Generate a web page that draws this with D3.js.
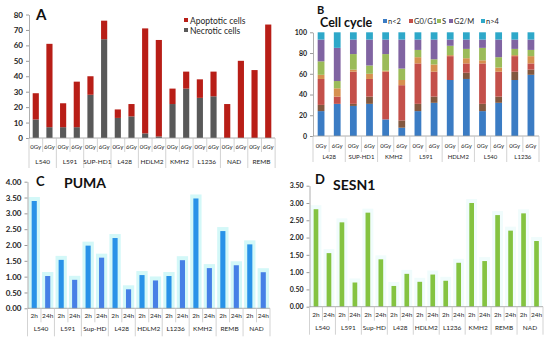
<!DOCTYPE html>
<html>
<head>
<meta charset="utf-8">
<script src="https://cdn.jsdelivr.net/npm/d3@7"></script>
<style>
  body { margin: 0; background: #fff; }
  svg { font-family: Lato, "Open Sans", sans-serif; }
</style>
</head>
<body>
<svg width="550" height="340"></svg>
<script>
// ---- data ----
const groupsA = ["L540", "L591", "SUP-HD1", "L428", "HDLM2", "KMH2", "L1236", "NAD", "REMB"];
const dosesA = ["0Gy", "6Gy"];
const necrotic = [12, 7, 7, 7, 28, 64, 13, 14, 3, 1, 22, 32, 26, 27, 0, 0, 0, 0];
const apoptotic = [17, 54, 15.5, 29.5, 12, 12, 5.5, 8, 68, 62.5, 10, 11, 12, 16, 22, 50, 44, 73.5];
const ticksA = [0, 10, 20, 30, 40, 50, 60, 70, 80];

const groupsB = ["L428", "SUP-HD1", "KMH2", "L591", "HDLM2", "L540", "L1236"];
const dosesB = ["0Gy", "6Gy"];
const nLt2 = [24, 31, 29, 31, 16, 8, 24, 32, 54, 55, 24, 32, 54, 59];
const sub1 = [6, 0, 2, 7, 0, 7, 7, 6, 0, 6, 7, 6, 8, 5];
const g0g1 = [25, 7, 31, 17, 46, 34, 39, 24, 23, 9, 39, 24, 15, 6];
const sub2 = [4, 8, 2, 5, 1, 5, 6, 7, 1, 5, 3, 4, 1, 7];
const sPhase = [13, 7, 15, 8, 16, 11, 7, 5, 9, 9, 12, 10, 6, 6];
const g2m = [21, 32, 14, 25, 14, 28, 10, 19, 6, 9, 8, 17, 9, 10];
const nGt4 = [7, 15, 7, 7, 7, 7, 7, 7, 7, 7, 7, 7, 7, 7];
const ticksB = [0, 20, 40, 60, 80, 100];

const groupsCD = ["L540", "L591", "Sup-HD", "L428", "HDLM2", "L1236", "KMH2", "REMB", "NAD"];
const timesCD = ["2h", "24h"];
const puma2h = [3.39, 1.53, 1.98, 2.22, 1.05, 1.02, 3.47, 2.44, 2.02];
const puma24h = [1.02, 0.90, 1.60, 0.60, 0.88, 1.52, 1.27, 1.36, 1.14];
const sesn2h = [2.82, 2.44, 2.72, 0.60, 0.72, 0.75, 3.00, 2.65, 2.70];
const sesn24h = [1.55, 0.70, 1.37, 0.95, 0.93, 1.27, 1.32, 2.20, 1.90];
const ticksC = [0, 0.5, 1, 1.5, 2, 2.5, 3, 3.5, 4];
const ticksD = [0, 0.5, 1, 1.5, 2, 2.5, 3, 3.5];

const svg = d3.select("svg");
const axisCol = "#9a9a9a";
const textCol = "#262626";

// two-level category axis like excel
function catAxis(g, x, y0, groups, subs, o) {
  const step = x.step();
  const r0 = x.range()[0];
  const n = groups.length * subs.length;
  g.append("line").attr("x1", r0).attr("x2", x.range()[1]).attr("y1", y0).attr("y2", y0)
    .attr("stroke", axisCol).attr("stroke-width", 0.8);
  for (let i = 0; i <= n; i++) {
    const xx = r0 + i * step;
    const isGroup = i % subs.length === 0;
    g.append("line").attr("x1", xx).attr("x2", xx).attr("y1", y0)
      .attr("y2", y0 + (isGroup ? o.len2 : o.len1))
      .attr("stroke", "#c8c8c8").attr("stroke-width", 0.8);
  }
  groups.forEach((gr, i) => {
    subs.forEach((s, j) => {
      g.append("text").attr("x", x(gr + "|" + s) + x.bandwidth() / 2).attr("y", y0 + o.off1)
        .attr("text-anchor", "middle").attr("font-size", o.fs1).attr("fill", textCol).text(s);
    });
    const cx = r0 + (i + 0.5) * subs.length * step;
    g.append("text").attr("x", cx).attr("y", y0 + o.off2)
      .attr("text-anchor", "middle").attr("font-size", o.fs2).attr("fill", textCol).text(gr);
  });
}

function valueAxis(g, y, xPos, ticks, fmt, fs) {
  const ax = d3.axisLeft(y).tickValues(ticks).tickFormat(fmt).tickSizeInner(3).tickSizeOuter(0);
  const a = g.append("g").attr("transform", `translate(${xPos},0)`).call(ax);
  a.select(".domain").attr("stroke", axisCol).attr("stroke-width", 0.8);
  a.selectAll(".tick line").attr("stroke", axisCol);
  a.selectAll("text").attr("font-size", fs).attr("font-weight", "bold").attr("fill", textCol)
    .attr("font-family", "Lato, sans-serif");
}

const keys = (groups, subs) => groups.flatMap(g => subs.map(s => g + "|" + s));

// ---------- Panel A ----------
{
  const g = svg.append("g");
  const k = keys(groupsA, dosesA);
  const x = d3.scaleBand().domain(k).range([29, 275]).paddingInner(0.55).paddingOuter(0.27);
  const y = d3.scaleLinear().domain([0, 80]).range([138, 14.5]);
  const rows = k.map((key, i) => ({ key, Necrotic: necrotic[i], Apoptotic: apoptotic[i] }));
  const stack = d3.stack().keys(["Necrotic", "Apoptotic"])(rows);
  const colA = { Necrotic: "#595959", Apoptotic: "#b81e17" };
  g.selectAll("g.s").data(stack).join("g").attr("fill", d => colA[d.key])
    .selectAll("rect").data(d => d).join("rect")
    .attr("x", d => x(d.data.key)).attr("width", x.bandwidth())
    .attr("y", d => y(d[1])).attr("height", d => y(d[0]) - y(d[1]));
  valueAxis(g, y, 29, ticksA, d3.format("d"), 8);
  catAxis(g, x, 138, groupsA, dosesA, { off1: 10.5, off2: 26, len1: 14, len2: 30, fs1: 6, fs2: 6.5 });
  g.append("text").attr("x", 36).attr("y", 20).attr("font-size", 15).attr("font-weight", "bold")
    .attr("fill", "#111").text("A");
  const leg = [["Apoptotic cells", colA.Apoptotic], ["Necrotic cells", colA.Necrotic]];
  leg.forEach((l, i) => {
    g.append("rect").attr("x", 184).attr("y", 18 + i * 10).attr("width", 4).attr("height", 4).attr("fill", l[1]);
    g.append("text").attr("x", 190).attr("y", 24 + i * 10).attr("font-size", 8.5)
      .attr("fill", textCol).text(l[0]);
  });
}

// ---------- Panel B ----------
{
  const g = svg.append("g");
  const k = keys(groupsB, dosesB);
  const x = d3.scaleBand().domain(k).range([313, 539]).paddingInner(0.58).paddingOuter(0.29);
  const y = d3.scaleLinear().domain([0, 100]).range([136, 32.3]);
  const series = [
    ["n<2", nLt2, "#3b7cc4"], ["sub1", sub1, "#83583f"], ["G0/G1", g0g1, "#c4504a"],
    ["sub2", sub2, "#d6904f"], ["S", sPhase, "#9bbb59"], ["G2/M", g2m, "#8064a2"], ["n>4", nGt4, "#2ea8c9"]
  ];
  const rows = k.map((key, i) => {
    const r = { key };
    series.forEach(s => r[s[0]] = s[1][i]);
    return r;
  });
  const stack = d3.stack().keys(series.map(s => s[0]))(rows);
  const col = Object.fromEntries(series.map(s => [s[0], s[2]]));
  g.selectAll("g.s").data(stack).join("g").attr("fill", d => col[d.key])
    .selectAll("rect").data(d => d).join("rect")
    .attr("x", d => x(d.data.key)).attr("width", x.bandwidth())
    .attr("y", d => y(d[1])).attr("height", d => y(d[0]) - y(d[1]));
  valueAxis(g, y, 313, ticksB, d3.format("d"), 7);
  catAxis(g, x, 136, groupsB, dosesB, { off1: 12, off2: 23, len1: 16, len2: 26, fs1: 6, fs2: 6 });
  g.append("text").attr("x", 317).attr("y", 14).attr("font-size", 11).attr("font-weight", "bold")
    .attr("fill", "#111").text("B");
  g.append("text").attr("x", 320).attr("y", 27).attr("font-size", 12.5).attr("font-weight", "bold")
    .attr("fill", "#111").text("Cell cycle");
  const legItems = [["n<2", 383], ["G0/G1", 409], ["S", 437], ["G2/M", 449], ["n>4", 481]];
  legItems.forEach(([name, lx]) => {
    g.append("rect").attr("x", lx).attr("y", 19).attr("width", 4).attr("height", 4).attr("fill", col[name]);
    g.append("text").attr("x", lx + 5).attr("y", 24).attr("font-size", 7.5).attr("fill", textCol).text(name);
  });
}

// ---------- Panels C and D ----------
function genePanel(o) {
  const g = svg.append("g");
  const k = keys(groupsCD, timesCD);
  const x = d3.scaleBand().domain(k).range(o.xr).paddingInner(o.pad).paddingOuter(o.pad / 2);
  const y = d3.scaleLinear().domain([0, o.max]).range(o.yr);
  const rows = k.map((key, i) => ({
    key, t: i % 2, v: (i % 2 === 0 ? o.v2 : o.v24)[Math.floor(i / 2)]
  }));
  if (o.halo) {
    g.selectAll("rect.h").data(rows).join("rect").attr("class", "h")
      .attr("x", d => x(d.key) + x.bandwidth() / 2 - x.step() * 0.42).attr("width", x.step() * 0.84)
      .attr("y", d => y(d.v) - 4).attr("height", d => y(0) - y(d.v) + 4)
      .attr("fill", o.halo);
  }
  g.selectAll("rect.b").data(rows).join("rect").attr("class", "b")
    .attr("x", d => x(d.key)).attr("width", x.bandwidth())
    .attr("y", d => y(d.v)).attr("height", d => y(0) - y(d.v))
    .attr("fill", d => o.colors[d.t]);
  valueAxis(g, y, o.xr[0], o.ticks, d3.format(".2f"), o.fs);
  catAxis(g, x, o.yr[0], groupsCD, timesCD, { off1: 10, off2: 23, len1: 14, len2: 28, fs1: 6.5, fs2: 6.5 });
  g.append("text").attr("x", o.letter[0]).attr("y", o.letter[1]).attr("font-size", 13)
    .attr("font-weight", "bold").attr("fill", "#111").text(o.letterText);
  g.append("text").attr("x", o.title[0]).attr("y", o.title[1]).attr("font-size", 14)
    .attr("font-weight", "bold").attr("fill", "#111").text(o.titleText);
}

genePanel({
  xr: [27.5, 270], yr: [308.3, 181.7], max: 4, ticks: ticksC, pad: 0.62, fs: 8,
  v2: puma2h, v24: puma24h, colors: ["#2992e8", "#4680e6"], halo: "#d3f8f8",
  letter: [36, 186], letterText: "C", title: [64, 188], titleText: "PUMA"
});

genePanel({
  xr: [309.5, 543], yr: [306.7, 185.7], max: 3.5, ticks: ticksD, pad: 0.64, fs: 7,
  v2: sesn2h, v24: sesn24h, colors: ["#84c341", "#84c341"], halo: "#f0fcfc",
  letter: [315, 184], letterText: "D", title: [333, 190], titleText: "SESN1"
});
</script>
</body>
</html>
